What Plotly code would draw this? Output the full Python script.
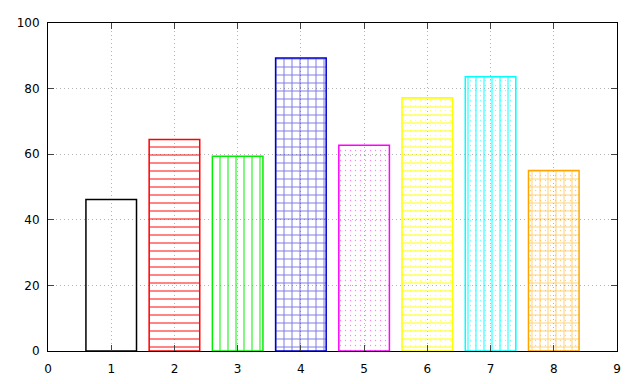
import plotly.graph_objects as go

categories = [1, 2, 3, 4, 5, 6, 7, 8]
values = [46.2, 64.5, 59.4, 89.3, 62.7, 77.2, 83.6, 55.0]
colors = ["#000000", "#ff0000", "#00ee00", "#0000cc", "#ff00ff", "#ffff00", "#00ffff", "#ffa500"]
line_patterns = ["", "-", "|", "+", "", "-", "|", "+"]
dot_patterns = ["", "", "", "", ".", ".", ".", "."]
x_ticks = [0, 1, 2, 3, 4, 5, 6, 7, 8, 9]
y_ticks = [0, 20, 40, 60, 80, 100]

fig = go.Figure()
fig.add_bar(
    x=categories, y=values, width=0.8,
    marker=dict(
        color="rgba(0,0,0,0)",
        line=dict(color=colors, width=0),
        pattern=dict(shape=line_patterns, fgcolor=colors, bgcolor="rgba(0,0,0,0)",
                     fillmode="overlay", size=8, solidity=0.24),
    ),
    showlegend=False,
)
fig.add_bar(
    x=categories, y=values, width=0.8,
    marker=dict(
        color="rgba(0,0,0,0)",
        line=dict(color=colors, width=0),
        pattern=dict(shape=dot_patterns, fgcolor=colors, bgcolor="rgba(0,0,0,0)",
                     fillmode="overlay", size=5, solidity=0.05),
    ),
    showlegend=False,
)
fig.add_bar(
    x=categories, y=values, width=0.8,
    marker=dict(
        color="rgba(0,0,0,0)",
        line=dict(color=colors, width=1.5),
    ),
    showlegend=False,
)

fig.update_layout(
    barmode="overlay",
    width=640, height=384,
    margin=dict(l=40, r=31, t=8, b=41),
    paper_bgcolor="white", plot_bgcolor="white",
    font=dict(family="DejaVu Sans", size=12, color="black"),
    xaxis=dict(range=[0, 9], tickvals=x_ticks, ticks="inside", ticklen=6,
               ticklabelstandoff=7,
               showline=True, linecolor="black", linewidth=1, mirror="ticks",
               showgrid=True, gridcolor="#b4b4b4", griddash="1px,3px", gridwidth=1,
               zeroline=False),
    yaxis=dict(range=[0, 100], tickvals=y_ticks, ticks="inside", ticklen=6,
               ticklabelstandoff=5,
               showline=True, linecolor="black", linewidth=1, mirror="ticks",
               showgrid=True, gridcolor="#b4b4b4", griddash="1px,3px", gridwidth=1,
               zeroline=False),
)

fig.write_html("out.html")
